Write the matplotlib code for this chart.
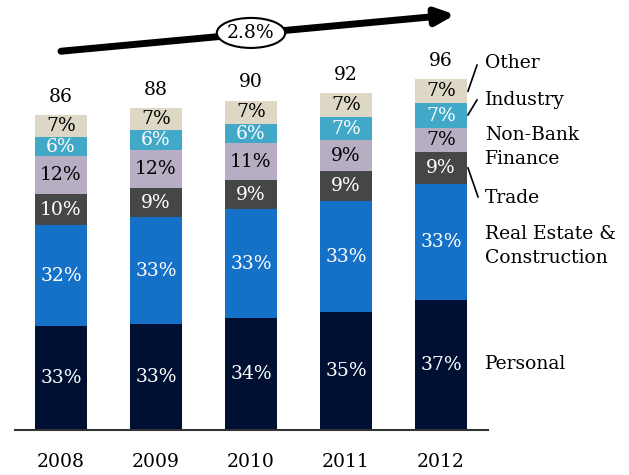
import matplotlib.pyplot as plt
import numpy as np
from matplotlib.patches import Ellipse

years = ["2008", "2009", "2010", "2011", "2012"]
totals = [86, 88, 90, 92, 96]
segments = ["Personal", "Real Estate &\nConstruction", "Trade", "Non-Bank\nFinance", "Industry", "Other"]
personal = [33, 33, 34, 35, 37]
real_estate = [32, 33, 33, 33, 33]
trade = [10, 9, 9, 9, 9]
non_bank = [12, 12, 11, 9, 7]
industry = [6, 6, 6, 7, 7]
other = [7, 7, 7, 7, 7]
cagr = "2.8%"

shares = [personal, real_estate, trade, non_bank, industry, other]
colors = ["#001033", "#1570c8", "#454747", "#b7aec4", "#42a8c8", "#ddd8c6"]
text_colors = ["white", "white", "white", "black", "white", "black"]

plt.rcParams['font.family'] = ['DejaVu Serif']
fs = 13.5

fig = plt.figure(figsize=(6.29, 4.75), dpi=100)
ax = fig.add_axes([0, 0, 1, 1])
ax.set_xlim(-0.642, 5.979)
ax.set_ylim(-12.3, 117.5)
ax.axis('off')

x = np.arange(len(years))
tot = np.array(totals, dtype=float)
bottom = np.zeros(len(years))
for s, c, tc in zip(shares, colors, text_colors):
    h = tot * np.array(s) / 100.0
    ax.bar(x, h, bottom=bottom, width=0.55, color=c, linewidth=0)
    for i in range(len(years)):
        ax.text(x[i], bottom[i] + h[i] / 2, "%d%%" % s[i], ha='center', va='center',
                color=tc, fontsize=fs)
    bottom += h

# totals above bars and years below
for i in range(len(years)):
    ax.text(x[i], tot[i] + 2.5, str(totals[i]), ha='center', va='bottom', fontsize=fs)
    ax.text(x[i], -8.8, years[i], ha='center', va='center', fontsize=fs)

# baseline
ax.plot([-0.484, 4.495], [0, 0], color='#333333', lw=1.5)

# growth arrow
ax.annotate("", xy=(4.15, 113.5), xytext=(0.0, 103.5),
            arrowprops=dict(arrowstyle='-|>,head_length=1.1,head_width=0.5', lw=5, color='black',
                            shrinkA=0, shrinkB=0))
ax.add_patch(Ellipse((2.0, 108.5), 0.72, 8.2, facecolor='white', edgecolor='black', lw=1.5, zorder=5))
ax.text(2.0, 108.5, cagr, ha='center', va='center', fontsize=fs, zorder=6)

# segment labels on the right of the last bar
lx = 4.46
label_y = [18.0, 50.3, 63.5, 77.4, 90.3, 100.3]
for lab, ly in zip(segments, label_y):
    ax.text(lx, ly, lab, ha='left', va='center', fontsize=fs, linespacing=1.45)

# leader lines
ax.plot([4.284, 4.379], [92.6, 99.7], color='black', lw=1.2)
ax.plot([4.284, 4.379], [86.1, 90.2], color='black', lw=1.2)
ax.plot([4.284, 4.39], [71.6, 63.7], color='black', lw=1.2)

fig.savefig("out.png", dpi=100)
